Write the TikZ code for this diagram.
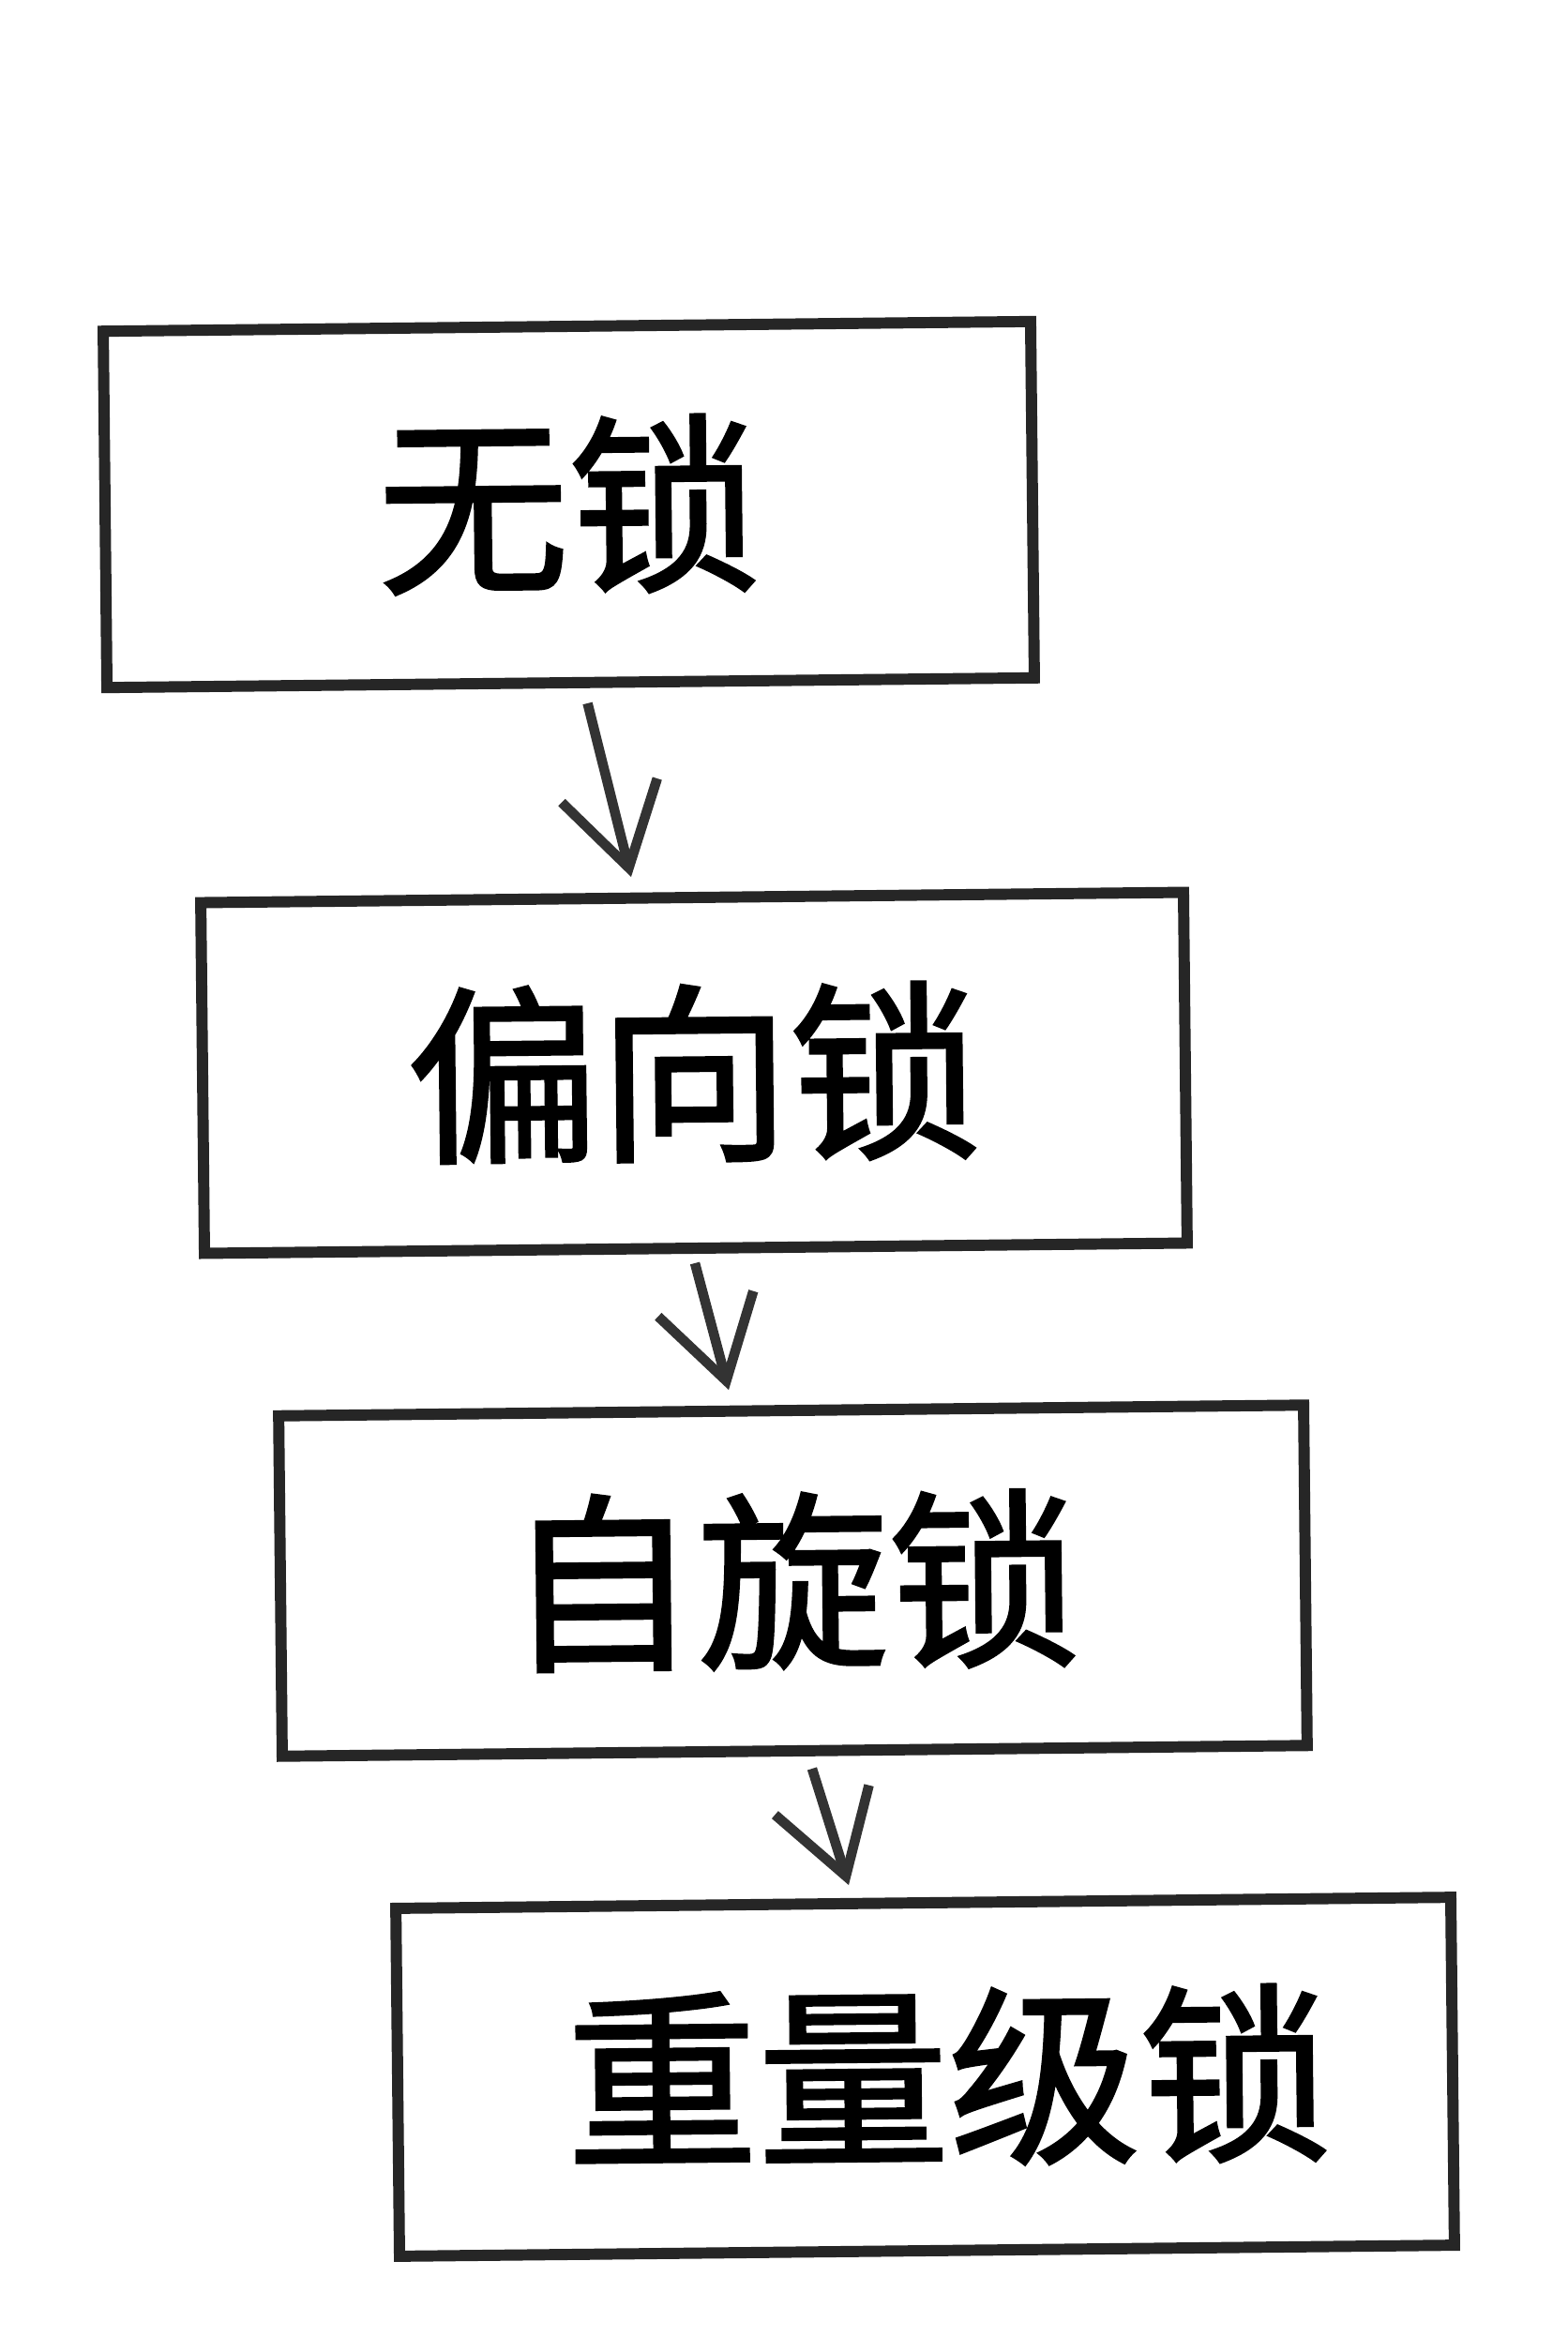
\documentclass[tikz,border=0pt]{standalone}
\usepackage{fontspec}
\newfontfamily\cjk[FakeBold=1.6]{Noto Sans CJK SC}
\usepackage{tikz}
\usetikzlibrary{arrows.meta}
\tikzstyle{block} = [rectangle, draw=black!85, line width=3.4pt, rotate=0.6,
    text centered, font=\cjk\fontsize{58pt}{60pt}\selectfont, inner sep=0pt]
\tikzstyle{line} = [draw=black!80, line width=3pt,
    -{Straight Barb[length=0.85cm, width=1.05cm, line width=3pt]}]

\begin{document}
\begin{tikzpicture}
  \useasboundingbox [fill=white] (0,0) rectangle (16.72,-25.08);
  % Place nodes
  \node [block, minimum width=9.89cm, minimum height=3.80cm] (nolock) at (6.065,-5.38) {无锁};
  \node [block, minimum width=10.48cm, minimum height=3.74cm] (biased) at (7.40,-11.44) {偏向锁};
  \node [block, minimum width=10.93cm, minimum height=3.63cm] (spin) at (8.455,-16.855) {自旋锁};
  \node [block, minimum width=11.25cm, minimum height=3.71cm, text width=11.25cm, align=center] (heavy) at (9.865,-22.145) {\hspace*{0.5cm}重量级锁};

  \path [line] ([xshift=0.18cm, yshift=-0.16cm]nolock.south) -- ([xshift=-0.65cm, yshift=0.16cm]biased.north);
  \path [line] ([xshift=-0.01cm, yshift=-0.10cm]biased.south) -- ([xshift=-0.665cm, yshift=0.16cm]spin.north);
  \path [line] ([xshift=0.185cm, yshift=-0.13cm]spin.south) -- ([xshift=-0.795cm, yshift=0.13cm]heavy.north);

\end{tikzpicture}
\end{document}
